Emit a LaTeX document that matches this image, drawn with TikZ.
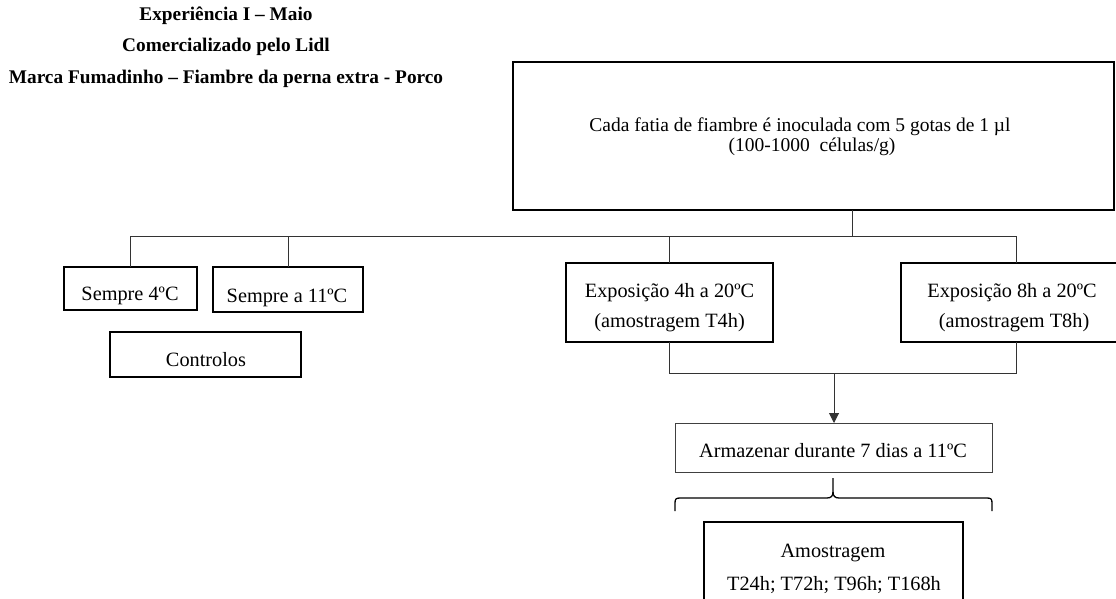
\documentclass[tikz,border=0pt]{standalone}
\usepackage{fontspec}
\setmainfont{Liberation Serif}
\usetikzlibrary{arrows.meta}
\begin{document}
\begin{tikzpicture}[x=1pt,y=-1pt,
  every node/.style={inner sep=0pt,outer sep=0pt},
  txt/.style={anchor=base,font=\fontsize{20.3}{24}\selectfont},
  toptxt/.style={anchor=base,font=\fontsize{19.5}{23}\selectfont},
  ttl/.style={anchor=base,font=\fontsize{19.3}{23}\selectfont\bfseries},
  box/.style={draw=black,line width=1.3pt,rectangle},
  thinbox/.style={draw=black!75,line width=1pt,rectangle},
  conn/.style={draw=black!80,line width=1pt},
  brace/.style={draw=black,line width=1.3pt}]
\useasboundingbox (0,0) rectangle (1116,598);
% titles
\node[ttl] (t1) at (226,20) {Experiência I – Maio};
\node[ttl] (t2) at (226,51) {Comercializado pelo Lidl};
\node[ttl] (t3) at (226,83) {Marca Fumadinho – Fiambre da perna extra - Porco};
% boxes
\node[box,minimum width=601,minimum height=148] (top) at (813.5,136) {};
\node[toptxt] (topa) at (800,131) {Cada fatia de fiambre é inoculada com 5 gotas de 1 µl};
\node[toptxt] (topb) at (812,151) {(100-1000\ \ células/g)};
\node[box,minimum width=133,minimum height=43] (s4) at (130.5,288.5) {};
\node[txt] (s4t) at (130,300) {Sempre 4ºC};
\node[box,minimum width=150,minimum height=45] (s11) at (288,289.5) {};
\node[txt] (s11t) at (287,302) {Sempre a 11ºC};
\node[box,minimum width=191,minimum height=45] (ctl) at (205.5,354.5) {};
\node[txt] (ctlt) at (206,366) {Controlos};
\node[box,minimum width=207,minimum height=79] (e4) at (669.5,302.5) {};
\node[txt] (e4a) at (669.5,297) {Exposição 4h a 20ºC};
\node[txt] (e4b) at (669.5,327) {(amostragem T4h)};
\node[box,minimum width=230,minimum height=79] (e8) at (1016,302.5) {};
\node[txt] (e8a) at (1012,297) {Exposição 8h a 20ºC};
\node[txt] (e8b) at (1014,327) {(amostragem T8h)};
\node[thinbox,minimum width=317,minimum height=49] (arm) at (833.5,447.5) {};
\node[txt] (armt) at (833,457) {Armazenar durante 7 dias a 11ºC};
\node[box,minimum width=259,minimum height=98] (amo) at (833.5,571) {};
\node[txt] (amoa) at (833,557) {Amostragem};
\node[txt] (amob) at (834,590) {T24h; T72h; T96h; T168h};
% connectors
\coordinate (j0) at (852,236);
\coordinate (j1) at (834,373);
\draw[conn] (top.south -| j0) -- (j0);
\draw[conn] (s4.north) -- (s4.north |- j0) -- (e8.north |- j0) -- (e8.north);
\draw[conn] (s11.north) -- (s11.north |- j0);
\draw[conn] (e4.north) -- (e4.north |- j0);
\draw[conn] (e4.south) -- (e4.south |- j1) -- (e8.south |- j1) -- (e8.south);
\draw[conn,-{Triangle[width=10pt,length=10pt]}] (j1) -- (j1 |- arm.north);
% brace
\draw[brace] (675,511) -- (675,503) .. controls (675,499) and (676,498) .. (680,498)
  -- (827,498) .. controls (831,498) and (833,496) .. (833,492) -- (833,478);
\draw[brace] (833,492) .. controls (833,496) and (835,498) .. (839,498)
  -- (987,498) .. controls (991,498) and (992,499) .. (992,503) -- (992,511);
\end{tikzpicture}
\end{document}
